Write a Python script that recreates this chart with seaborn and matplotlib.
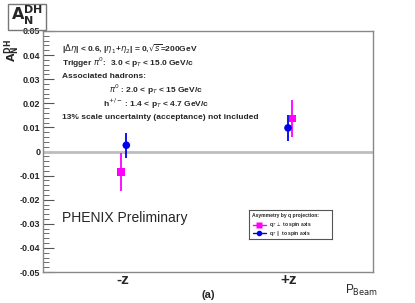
import numpy as np
import pandas as pd
import matplotlib
matplotlib.use('Agg')
import matplotlib.pyplot as plt
import seaborn as sns
from matplotlib.patches import Rectangle
from matplotlib.ticker import MultipleLocator

# data
categories = ['-z', '+z']
perp_vals = [-0.0085, 0.0137]
perp_errs = [0.0078, 0.0076]
par_vals = [0.0026, 0.0098]
par_errs = [0.0052, 0.0053]
series = ['perp', 'par']
colors = {'perp': '#ff00ff', 'par': '#0000ee'}
markers = {'perp': 's', 'par': 'o'}
dodge = {'perp': [-0.01, 0.022], 'par': [0.022, -0.004]}

rows = []
for s, vals, errs in [('perp', perp_vals, perp_errs), ('par', par_vals, par_errs)]:
    for i, c in enumerate(categories):
        rows.append({'cat': c, 'idx': i, 'series': s, 'A': vals[i], 'err': errs[i]})
df = pd.DataFrame(rows)
df['x'] = [r.idx + dodge[r.series][r.idx] for r in df.itertuples()]

sns.set_theme(style='white')
plt.rcParams['font.family'] = ['Liberation Sans', 'DejaVu Sans']

fig = plt.figure(figsize=(4.15, 3.03), dpi=100)
ax = fig.add_axes([0.1036, 0.1023, 0.7952, 0.7954])

ax.axhline(0, color='#bdbdbd', lw=2, zorder=1)
for s in series:
    sub = df[df['series'] == s]
    ax.errorbar(sub['x'], sub['A'], yerr=sub['err'], fmt='none',
                ecolor=colors[s], elinewidth=1.3, capsize=0, zorder=2)
sns.scatterplot(data=df, x='x', y='A', hue='series', style='series',
                palette=colors, markers=markers, s=30, edgecolor='none',
                legend=False, ax=ax, zorder=3)

ax.set_xlim(-0.48, 1.508)
ax.set_ylim(-0.05, 0.05)
ax.set_xticks(range(len(categories)))
ax.set_xticklabels(categories, fontsize=11, fontweight='bold')
ax.tick_params(axis='x', length=0, pad=1)
yt = np.round(np.arange(-0.05, 0.0501, 0.01), 2)
ax.set_yticks(yt)
ax.set_yticklabels([('%g' % v) for v in yt], fontsize=6.5, fontweight='bold')
ax.yaxis.set_minor_locator(MultipleLocator(0.002))
ax.tick_params(axis='y', which='major', direction='in', length=8, width=0.8,
               color='#555555', left=True, pad=2)
ax.tick_params(axis='y', which='minor', direction='in', length=4, width=0.6,
               color='#555555', left=True)
ax.set_xlabel('')
ax.set_ylabel('')
for sp in ax.spines.values():
    sp.set_color('#888888')
    sp.set_linewidth(1.0)

# y axis label
fig.text(0.03, 0.872, r'$\mathbf{A_N^{DH}}$', rotation=90, ha='center', va='top',
         fontsize=8)

# title box
fig.patches.append(Rectangle((0.02, 0.9), 0.092, 0.088, transform=fig.transFigure,
                             fill=False, edgecolor='#777777', lw=1))
fig.text(0.066, 0.95, r'$\mathbf{A_N^{DH}}$', ha='center', va='center', fontsize=11.5)

# annotations
tx = 0.058
lines = [
    (tx, r'|$\Delta\eta$| < 0.6, |$\eta_1$+$\eta_2$| = 0,$\sqrt{s}$=200GeV'),
    (tx, r'Trigger $\pi^0$:  3.0 < p$_T$ < 15.0 GeV/c'),
    (tx, 'Associated hadrons:'),
    (0.2, r'$\pi^0$ : 2.0 < p$_T$ < 15 GeV/c'),
    (0.183, r'h$^{+/-}$ : 1.4 < p$_T$ < 4.7 GeV/c'),
    (tx, '13% scale uncertainty (acceptance) not included'),
]
for k, (x0, t) in enumerate(lines):
    ax.text(x0, 0.925 - k * 0.057, t, transform=ax.transAxes, fontsize=6,
            fontweight='bold', va='center', ha='left')

ax.text(0.058, 0.225, 'PHENIX Preliminary', transform=ax.transAxes, fontsize=10,
        va='center', ha='left')

# legend box
lax = fig.add_axes([0.6, 0.21, 0.2, 0.097])
lax.set_xlim(0, 1)
lax.set_ylim(0, 1)
lax.set_xticks([])
lax.set_yticks([])
for sp in lax.spines.values():
    sp.set_color('#555555')
    sp.set_linewidth(0.8)
lax.text(0.04, 0.82, r'Asymmetry by q projection:', fontsize=3.6,
         fontweight='bold', va='center')
leg_labels = {'perp': r'q$_T$ $\perp$ to spin axis', 'par': r'q$_T$ $\parallel$ to spin axis'}
for k, s in enumerate(series):
    yy = 0.5 - k * 0.3
    lax.plot([0.05, 0.2], [yy, yy], color=colors[s], lw=1)
    lax.plot([0.125], [yy], marker=markers[s], color=colors[s], ms=4, mec='none')
    lax.text(0.24, yy, leg_labels[s], fontsize=3.6, fontweight='bold', va='center')

fig.text(0.503, 0.025, '(a)', fontsize=8, fontweight='bold', ha='center', va='center')
fig.text(0.87, 0.04, r'P$_{\mathrm{Beam}}$', fontsize=8.5, ha='center', va='center')

fig.savefig('out.png', dpi=100)
